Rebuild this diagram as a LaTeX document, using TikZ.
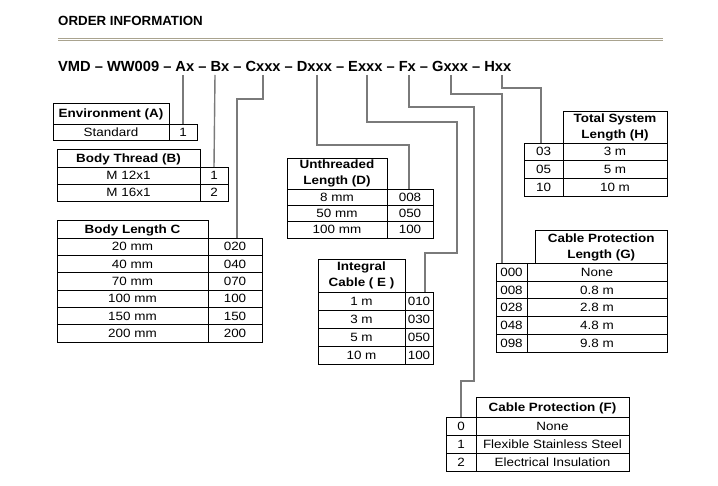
\documentclass[tikz,border=0pt]{standalone}
\usepackage{fontspec}
\setmainfont{Liberation Sans}
\newfontfamily\tabf[FakeStretch=1.12]{Liberation Sans}
\definecolor{connGray}{HTML}{7A7A7A}
\definecolor{ruleTan}{HTML}{A9A38F}
\tikzset{
  cell/.style={draw=black, line width=0.9pt, inner sep=0pt, outer sep=0pt, anchor=north west,
    font=\tabf\fontsize{12}{14}\selectfont, text height=8.6pt, text depth=0.5pt},
  hcell/.style={cell, font=\tabf\bfseries\fontsize{12}{14}\selectfont},
  htwo/.style={draw=black, line width=0.9pt, inner sep=0pt, outer sep=0pt, anchor=north west,
    align=center, font=\tabf\bfseries\fontsize{12}{16}\selectfont},
  conn/.style={draw=connGray, line width=1.4pt},
  rulel/.style={draw=ruleTan, line width=0.8pt},
}
\begin{document}
\begin{tikzpicture}[x=1pt,y=-1pt]
\useasboundingbox (0,0) rectangle (718,486);

% title and rule
\node[anchor=base west, inner sep=0pt, font=\bfseries\fontsize{13.3}{16}\selectfont] (title) at (58,25.3) {ORDER INFORMATION};
\draw[rulel] (58,38.7) -- (663,38.7);
\draw[rulel] (58,40.8) -- (663,40.8);

% order code
\node[anchor=base west, inner sep=0pt, font=\bfseries\fontsize{14.66}{17}\selectfont] (code) at (58,72) {VMD – WW009 – Ax – Bx – Cxxx – Dxxx – Exxx – Fx – Gxxx – Hxx};
\coordinate (sA) at (183,75);
\coordinate (sB) at (215,75);
\coordinate (sC) at (263,75);
\coordinate (sD) at (317,75);
\coordinate (sE) at (367,75);
\coordinate (sF) at (409,75);
\coordinate (sG) at (451,75);
\coordinate (sH) at (502,75);

% Environment (A)
\node[hcell, minimum width=116pt, minimum height=21pt] (aH) at (53,103) {Environment (A)};
\node[cell, minimum width=116pt, minimum height=16pt] (a1t) at (53,124) {Standard};
\node[cell, minimum width=28pt, minimum height=16pt] (a1v) at (169,124) {1};

% Body Thread (B)
\node[hcell, minimum width=143pt, minimum height=18pt] (bH) at (57,149) {Body Thread (B)};
\node[cell, minimum width=143pt, minimum height=17pt] (b1t) at (57,167) {M 12x1};
\node[cell, minimum width=28pt, minimum height=17pt] (b1v) at (200,167) {1};
\node[cell, minimum width=143pt, minimum height=17pt] (b2t) at (57,184) {M 16x1};
\node[cell, minimum width=28pt, minimum height=17pt] (b2v) at (200,184) {2};

% Body Length C
\node[hcell, minimum width=151pt, minimum height=18pt] (cH) at (57,220) {Body Length C};
\foreach \t/\v [count=\i] in {20 mm/020, 40 mm/040, 70 mm/070, 100 mm/100, 150 mm/150, 200 mm/200}{
  \node[cell, minimum width=151pt, minimum height=17.33pt] (c\i t) at (57,{238+17.333*(\i-1)}) {\t};
  \node[cell, minimum width=54pt, minimum height=17.33pt] (c\i v) at (208,{238+17.333*(\i-1)}) {\v};
}

% Unthreaded Length (D)
\node[htwo, minimum width=100pt, minimum height=31pt] (dH) at (287,158) {Unthreaded\\Length (D)};
\foreach \t/\v [count=\i] in {8 mm/008, 50 mm/050, 100 mm/100}{
  \node[cell, minimum width=100pt, minimum height=16.33pt] (d\i t) at (287,{189+16.333*(\i-1)}) {\t};
  \node[cell, minimum width=46pt, minimum height=16.33pt] (d\i v) at (387,{189+16.333*(\i-1)}) {\v};
}

% Integral Cable (E)
\node[htwo, minimum width=87pt, minimum height=33pt] (eH) at (318,259) {Integral\\Cable ( E )};
\foreach \t/\v [count=\i] in {1 m/010, 3 m/030, 5 m/050, 10 m/100}{
  \node[cell, minimum width=87pt, minimum height=18.12pt] (e\i t) at (318,{292+18.125*(\i-1)}) {\t};
  \node[cell, minimum width=28pt, minimum height=18.12pt] (e\i v) at (405,{292+18.125*(\i-1)}) {\v};
}

% Total System Length (H)
\node[htwo, minimum width=104pt, minimum height=32pt] (hH) at (563,111) {Total System\\Length (H)};
\foreach \c/\t [count=\i] in {03/3 m, 05/5 m, 10/10 m}{
  \node[cell, minimum width=39pt, minimum height=17.9pt] (h\i c) at (524,{143+17.9*(\i-1)}) {\c};
  \node[cell, minimum width=104pt, minimum height=17.9pt] (h\i t) at (563,{143+17.9*(\i-1)}) {\t};
}

% Cable Protection Length (G)
\node[htwo, minimum width=131.5pt, minimum height=33pt] (gH) at (535.5,230.5) {Cable Protection\\Length (G)};
\foreach \c/\t [count=\i] in {000/None, 008/0.8 m, 028/2.8 m, 048/4.8 m, 098/9.8 m}{
  \node[cell, minimum width=31pt, minimum height=17.7pt] (g\i c) at (496,{263.5+17.7*(\i-1)}) {\c};
  \node[cell, minimum width=140pt, minimum height=17.7pt] (g\i t) at (527,{263.5+17.7*(\i-1)}) {\t};
}

% Cable Protection (F)
\node[hcell, minimum width=153pt, minimum height=20pt] (fH) at (476,397) {Cable Protection (F)};
\foreach \c/\t [count=\i] in {0/None, 1/Flexible Stainless Steel, 2/Electrical Insulation}{
  \node[cell, minimum width=30pt, minimum height=18pt] (f\i c) at (446,{417+18*(\i-1)}) {\c};
  \node[cell, minimum width=153pt, minimum height=18pt] (f\i t) at (476,{417+18*(\i-1)}) {\t};
}

% connectors
\draw[conn] (sA) -- (a1v.north);
\draw[conn] (sB) -- (b1v.north);
\draw[conn] (sC) -- ++(0,24) -| ([xshift=2pt]c1v.north);
\draw[conn] (sD) -- ++(0,70) -| ([xshift=-1pt]d1v.north);
\draw[conn] (sE) -- ++(0,47) -- ++(90,0) -- ++(0,131) -| ([xshift=6pt]e1v.north);
\draw[conn] (sF) -- ++(0,32) -- ++(65,0) -- ++(0,274) -| (f1c.north);
\draw[conn] (sG) -- ++(0,19) -| ([xshift=-9.5pt]g1c.north);
\draw[conn] (sH) -- ++(0,13) -| ([xshift=-2.5pt]h1c.north);
\end{tikzpicture}
\end{document}
